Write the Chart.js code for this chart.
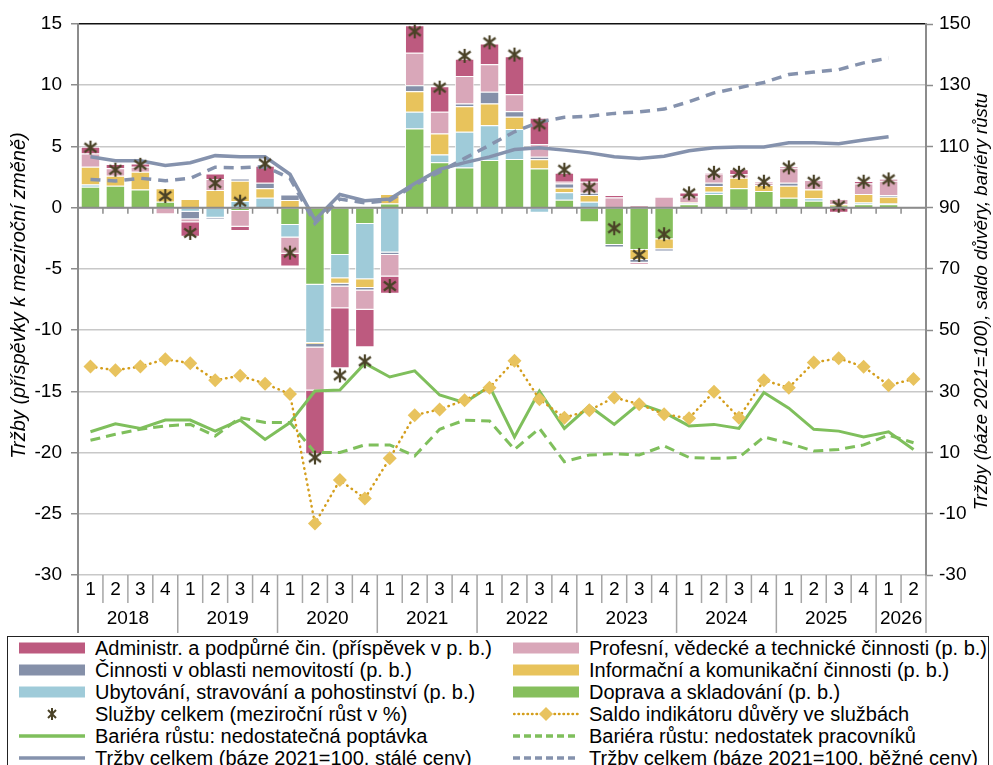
<!DOCTYPE html>
<html>
<head>
<meta charset="utf-8">
<script src="https://cdn.jsdelivr.net/npm/chart.js@4"></script>
<style>
  html, body { margin:0; padding:0; background:#fff; }
  body { width:993px; height:765px; position:relative; overflow:hidden; font-family:"Liberation Sans", Arial, sans-serif; }
  #c { position:absolute; left:0; top:0; }
  #legend { position:absolute; left:7px; top:636px; width:982px; height:140px; border:1px solid #222; box-sizing:border-box; }
  .li { position:absolute; height:22px; line-height:22px; font-size:20px; color:#000; white-space:nowrap; }
  .li svg { position:absolute; left:0; top:0; }
  .li span { position:absolute; left:76px; top:0; }
</style>
</head>
<body>
<canvas id="c" width="993" height="636"></canvas>
<div id="legend"></div>
<script>
// ---------- DATA ----------
const quarterLabels = ['1','2','3','4','1','2','3','4','1','2','3','4','1','2','3','4','1','2','3','4','1','2','3','4','1','2','3','4','1','2','3','4','1','2'];
const yearLabels = ['2018','2019','2020','2021','2022','2023','2024','2025','2026'];
const quartersPerYear = [4,4,4,4,4,4,4,4,2];

const doprava = [1.71,1.79,1.49,0.49,null,null,-0.27,null,-1.41,-6.3,-3.86,-1.33,0.35,6.47,3.7,3.29,3.89,3.97,3.2,0.65,-1.2,-3.04,-3.45,-2.58,0.27,1.11,1.58,1.36,0.82,0.57,0.16,0.27,0.27,null];
const ubytovani = [0.19,null,null,null,-0.33,-0.82,0.54,0.82,-1.03,-4.75,-1.9,-4.51,-3.67,1.36,0.65,2.9,2.85,2.45,-0.41,0.6,0.49,null,null,null,0.1,0.19,null,null,null,0.19,null,0.16,0.08,null];
const informacni = [1.44,0.82,1.44,1.09,0.71,1.44,1.66,0.76,0.62,-0.08,-0.46,-0.73,0.76,1.68,1.71,2.09,1.77,1.0,0.76,0.38,0.54,null,-0.82,-0.82,0.08,0.46,0.87,0.49,0.98,0.73,0.11,0.68,0.54,null];
const nemovitosti = [null,-0.15,null,null,-0.62,-0.14,0.19,0.46,0.46,-0.3,-0.22,-0.19,-0.19,0.49,null,0.22,0.95,0.46,0.19,0.35,0.19,-0.22,-0.22,-0.19,-0.14,0.27,-0.24,null,0.24,null,null,null,0.14,null];
const profesni = [1.09,0.6,0.41,-0.54,-0.25,0.9,-1.28,null,-1.33,-3.5,-1.77,-1.58,-1.77,2.66,1.77,2.26,2.26,1.39,1.03,0.14,0.9,0.84,0.22,0.9,0.46,0.76,0.27,0.19,1.22,0.76,0.43,0.87,1.17,null];
const administr = [0.54,0.35,0.27,null,-1.17,0.46,-0.35,1.39,-1.03,-5.2,-4.9,-3.06,-1.41,2.23,2.09,1.41,1.68,3.1,2.17,0.73,0.35,0.19,-0.14,null,0.33,0.08,0.41,0.08,0.14,null,-0.41,0.19,0.14,null];
const sluzbyCelkem = [4.9,3.1,3.5,0.95,-2.06,2.0,0.49,3.6,-3.67,-20.4,-13.7,-12.55,-6.4,14.4,9.8,12.4,13.5,12.5,6.8,3.1,1.63,-1.68,-3.86,-2.17,1.17,2.85,2.85,2.12,3.29,2.12,0.16,2.12,2.31,null];
const saldoDuvery = [38.1,36.9,38.1,40.5,39.2,33.6,35.1,32.5,29.1,-13.2,1.0,-5.0,8.1,22.2,24.1,27.1,31.2,40.0,27.4,21.4,23.8,28.0,25.8,22.5,21.2,29.9,21.4,33.6,31.2,39.4,40.8,38.0,32.0,34.0];
const barieraPoptavka = [16.8,19.4,17.9,20.6,20.6,17.0,20.6,14.3,19.8,30.1,30.4,39.1,34.7,36.7,28.8,26.3,31.6,15.1,30.1,17.9,25.2,19.2,26.0,23.1,18.7,19.2,17.9,29.6,24.5,17.6,17.0,15.1,16.8,11.0];
const barieraPracovnici = [14.0,16.0,17.6,18.7,19.2,15.4,21.4,19.8,19.8,10.0,10.0,12.5,12.5,8.9,17.6,20.6,20.3,11.0,17.9,7.0,9.2,9.6,9.2,12.2,8.4,8.1,8.4,15.1,13.0,10.5,11.0,12.5,15.7,13.2];
const trzbyStale = [106.6,105.3,105.3,103.8,104.7,107.0,106.6,106.6,100.9,86.0,94.3,92.3,92.8,97.9,102.5,104.7,106.6,109.0,109.6,108.8,107.9,106.6,106.1,106.8,108.6,109.6,109.8,109.8,111.2,111.2,110.9,112.1,113.2,null];
const trzbyBezne = [99.2,98.7,99.6,98.8,99.6,103.2,103.0,103.4,99.6,84.9,92.8,91.6,92.3,97.4,101.7,106.1,110.4,114.8,118.0,119.5,119.9,120.8,121.3,122.2,124.6,127.5,129.2,130.9,133.5,134.3,135.1,137.3,138.9,null];

const leftTitle = 'Tržby (příspěvky k meziroční změně)';
const rightTitle = 'Tržby (báze 2021=100), saldo důvěry, bariéry růstu';

const L = {
  admin: 'Administr. a podpůrné čin. (příspěvek v p. b.)',
  prof: 'Profesní, vědecké a technické činnosti (p. b.)',
  nem: 'Činnosti v oblasti nemovitostí (p. b.)',
  inf: 'Informační a komunikační činnosti (p. b.)',
  uby: 'Ubytování, stravování a pohostinství (p. b.)',
  dop: 'Doprava a skladování (p. b.)',
  sl: 'Služby celkem (meziroční růst v %)',
  sal: 'Saldo indikátoru důvěry ve službách',
  bpop: 'Bariéra růstu: nedostatečná poptávka',
  bprac: 'Bariéra růstu: nedostatek pracovníků',
  ts: 'Tržby celkem (báze 2021=100, stálé ceny)',
  tb: 'Tržby celkem (báze 2021=100, běžné ceny)'
};

// ---------- STYLE ----------
const C = {
  admin:'#bd5a7f', prof:'#d9a7b9', nem:'#8590a9', inf:'#e8c35c', uby:'#9fcbd9', dop:'#86bf5d',
  star:'#4a4227', saldoLine:'#d49e1c', saldoPt:'#e8c35e', green:'#7fbf5c', grey:'#8592ad'
};
const FONT = '"Liberation Sans", Arial, sans-serif';
Chart.defaults.font.family = FONT;
Chart.defaults.color = '#000';

function makeStar(size, lw) {
  const cv = document.createElement('canvas');
  cv.width = size; cv.height = size;
  const g = cv.getContext('2d');
  g.strokeStyle = C.star; g.lineWidth = lw; g.lineCap = 'butt';
  const m = size/2, rx = size/2 - 2, ry = size/2 - 3.5;
  g.beginPath();
  g.moveTo(m - rx, m - ry); g.lineTo(m + rx, m + ry);
  g.moveTo(m + rx, m - ry); g.lineTo(m - rx, m + ry);
  g.moveTo(m, 1); g.lineTo(m, size - 1);
  g.stroke();
  return cv;
}
const starImg = makeStar(16, 2.2);

function bar(label, data, color) {
  return { type:'bar', label, data, backgroundColor:color, borderColor:'#ffffff', borderWidth:1,
    borderSkipped:'start', stack:'s', yAxisID:'y', barPercentage:0.78, categoryPercentage:1, order:10 };
}

const datasets = [
  bar(L.dop, doprava, C.dop),
  bar(L.uby, ubytovani, C.uby),
  bar(L.inf, informacni, C.inf),
  bar(L.nem, nemovitosti, C.nem),
  bar(L.prof, profesni, C.prof),
  bar(L.admin, administr, C.admin),
  { type:'line', label:L.bpop, data:barieraPoptavka, yAxisID:'y2', borderColor:C.green, borderWidth:3, pointRadius:0, tension:0, order:4 },
  { type:'line', label:L.bprac, data:barieraPracovnici, yAxisID:'y2', borderColor:C.green, borderWidth:3, borderDash:[10,6], pointRadius:0, tension:0, order:4 },
  { type:'line', label:L.sal, data:saldoDuvery, yAxisID:'y2', borderColor:C.saldoLine, borderWidth:2.5, borderDash:[0.5,5], borderCapStyle:'round',
    pointStyle:'rectRot', pointRadius:7, pointBackgroundColor:C.saldoPt, pointBorderColor:C.saldoPt, pointBorderWidth:0, tension:0, order:3 },
  { type:'line', label:L.ts, data:trzbyStale, yAxisID:'y2', borderColor:C.grey, borderWidth:3.5, pointRadius:0, tension:0, order:2 },
  { type:'line', label:L.tb, data:trzbyBezne, yAxisID:'y2', borderColor:C.grey, borderWidth:3.5, borderDash:[10,7], pointRadius:0, tension:0, order:2 },
  { type:'line', label:L.sl, data:sluzbyCelkem, yAxisID:'y', showLine:false, pointStyle:starImg, pointRadius:8, order:0 }
];

const customAxes = {
  id:'customAxes',
  afterDatasetsDraw(chart) {
    const ctx = chart.ctx, a = chart.chartArea, x = chart.scales.x, y0 = chart.scales.y.getPixelForValue(0);
    ctx.save();
    ctx.strokeStyle = '#8c8c8c'; ctx.lineWidth = 2;
    ctx.beginPath(); ctx.moveTo(a.left, y0); ctx.lineTo(a.right, y0); ctx.stroke();
    ctx.lineWidth = 1.5;
    ctx.beginPath();
    for (let i = 1; i < quarterLabels.length; i++) {
      const b = (x.getPixelForValue(i-1) + x.getPixelForValue(i)) / 2;
      ctx.moveTo(b, y0); ctx.lineTo(b, y0 + 6);
    }
    ctx.stroke();
    ctx.restore();
  },
  afterDraw(chart) {
    const ctx = chart.ctx, a = chart.chartArea, x = chart.scales.x;
    ctx.save();
    ctx.fillStyle = '#000'; ctx.font = '19px ' + FONT; ctx.textAlign = 'center'; ctx.textBaseline = 'middle';
    for (let i = 0; i < quarterLabels.length; i++) ctx.fillText(quarterLabels[i], x.getPixelForValue(i), a.bottom + 15);
    ctx.strokeStyle = '#a6a6a6'; ctx.lineWidth = 1.5;
    ctx.beginPath();
    const yearStart = new Set(); let acc = 0;
    quartersPerYear.forEach(n => { yearStart.add(acc); acc += n; });
    for (let i = 1; i < quarterLabels.length; i++) {
      const b = (x.getPixelForValue(i-1) + x.getPixelForValue(i)) / 2;
      ctx.moveTo(b, a.bottom); ctx.lineTo(b, a.bottom + (yearStart.has(i) ? 58 : 28));
    }
    ctx.moveTo(a.right, a.bottom); ctx.lineTo(a.right, a.bottom + 58);
    ctx.stroke();
    ctx.strokeStyle = '#8c8c8c'; ctx.lineWidth = 2;
    ctx.beginPath(); ctx.moveTo(a.left, a.bottom); ctx.lineTo(a.left, a.bottom + 58); ctx.stroke();
    let s = 0;
    yearLabels.forEach((yl, k) => {
      const e = s + quartersPerYear[k] - 1;
      const cx = (x.getPixelForValue(s) + x.getPixelForValue(e)) / 2;
      ctx.fillText(yl, cx, a.bottom + 44);
      s = e + 1;
    });
    const cy = (a.top + a.bottom) / 2;
    ctx.font = 'italic 20px ' + FONT;
    ctx.save(); ctx.translate(19, cy - 4); ctx.rotate(-Math.PI/2); ctx.fillText(leftTitle, 0, 0); ctx.restore();
    ctx.font = 'italic 18.5px ' + FONT;
    ctx.save(); ctx.translate(982, cy + 2); ctx.rotate(-Math.PI/2); ctx.fillText(rightTitle, 0, 0); ctx.restore();
    ctx.restore();
  }
};

new Chart(document.getElementById('c'), {
  data: { labels: quarterLabels, datasets },
  options: {
    responsive:false, animation:false, devicePixelRatio:1,
    layout:{ padding:{ top:24, bottom:61, left:0, right:0 } },
    plugins:{ legend:{ display:false }, tooltip:{ enabled:false } },
    scales:{
      x:{ type:'category', display:false, offset:true, stacked:true },
      y:{ position:'left', min:-30, max:15, stacked:true,
        ticks:{ stepSize:5, padding:9, font:{ size:19 }, color:'#000' },
        grid:{ color:(c)=> (c.tick && c.tick.value === 15) ? '#111' : '#c8c8c8', lineWidth:1.5, tickLength:7, tickColor:'#8c8c8c', tickWidth:1.5 },
        border:{ display:true, color:'#8c8c8c', width:2 },
        afterFit(s){ s.width = 78; } },
      y2:{ position:'right', min:-30, max:150,
        ticks:{ stepSize:20, padding:6, font:{ size:19 }, color:'#000' },
        grid:{ drawOnChartArea:false, tickLength:7, tickColor:'#8c8c8c', tickWidth:1.5 },
        border:{ display:true, color:'#8c8c8c', width:2 },
        afterFit(s){ s.width = 67; } }
    }
  },
  plugins:[customAxes]
});

// ---------- HTML LEGEND ----------
function sw(kind, color) {
  const w = 66, h = 22;
  let inner = '';
  if (kind === 'bar') inner = `<rect x="0" y="5.5" width="${w}" height="11" fill="${color}"/>`;
  else if (kind === 'line') inner = `<line x1="0" y1="11" x2="${w}" y2="11" stroke="${color}" stroke-width="3.5"/>`;
  else if (kind === 'dash') inner = `<line x1="0" y1="11" x2="${w}" y2="11" stroke="${color}" stroke-width="3.5" stroke-dasharray="7 4"/>`;
  else if (kind === 'star') inner = `<g stroke="${C.star}" stroke-width="2"><line x1="29" y1="7" x2="37" y2="15"/><line x1="37" y1="7" x2="29" y2="15"/><line x1="33" y1="5" x2="33" y2="17"/></g>`;
  else if (kind === 'saldo') inner = `<line x1="1" y1="11" x2="${w}" y2="11" stroke="${C.saldoLine}" stroke-width="2.5" stroke-dasharray="0.5 4" stroke-linecap="round"/><polygon points="33,4 40,11 33,18 26,11" fill="${C.saldoPt}"/>`;
  return `<svg width="${w}" height="${h}">${inner}</svg>`;
}
const legendItems = [
  ['bar', C.admin, L.admin], ['bar', C.prof, L.prof],
  ['bar', C.nem, L.nem], ['bar', C.inf, L.inf],
  ['bar', C.uby, L.uby], ['bar', C.dop, L.dop],
  ['star', C.star, L.sl], ['saldo', C.saldoLine, L.sal],
  ['line', C.green, L.bpop], ['dash', C.green, L.bprac],
  ['line', C.grey, L.ts], ['dash', C.grey, L.tb]
];
const lg = document.getElementById('legend');
legendItems.forEach((it, i) => {
  const row = Math.floor(i/2), col = i % 2;
  const d = document.createElement('div');
  d.className = 'li';
  d.style.left = (col === 0 ? 11 : 505) + 'px';
  d.style.top = (0 + row * 21.9) + 'px';
  d.innerHTML = sw(it[0], it[1]) + `<span>${it[2]}</span>`;
  lg.appendChild(d);
});
</script>
</body>
</html>
